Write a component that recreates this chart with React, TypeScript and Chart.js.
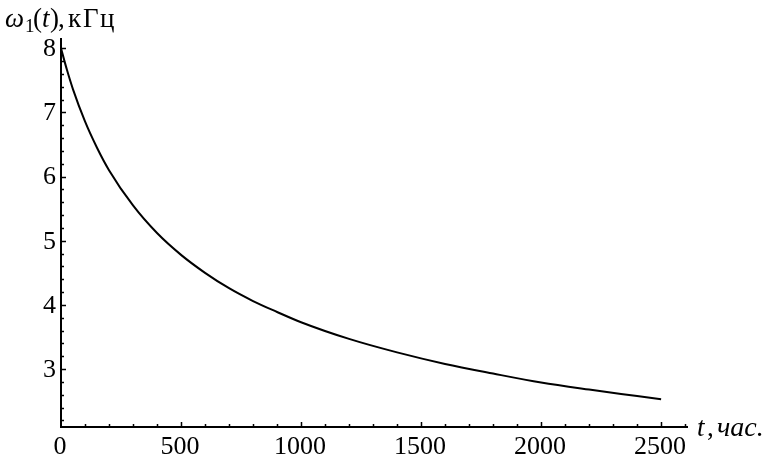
import React, { useEffect, useRef } from "react";
import { Chart, registerables } from "chart.js";

Chart.register(...registerables);

const tValues = [0, 25, 50, 100, 150, 200, 300, 400, 500, 600, 700, 800, 900, 1000, 1200, 1400, 1600, 1800, 2000, 2200, 2400, 2500];
const omegaValues = [8.0, 7.66, 7.36, 6.86, 6.45, 6.1, 5.55, 5.12, 4.78, 4.5, 4.26, 4.06, 3.89, 3.73, 3.47, 3.26, 3.08, 2.93, 2.79, 2.68, 2.58, 2.53];
const xMajorTicks = [0, 500, 1000, 1500, 2000, 2500];
const xMinorStep = 100;
const yMajorTicks = [3, 4, 5, 6, 7, 8];
const yMinorStep = 0.2;
const xRange = [0, 2612];
const yRange = [2.097, 8.16];

const FONT = "'Liberation Serif', 'DejaVu Serif', serif";

const axesPlugin = {
  id: "mmaAxes",
  afterDatasetsDraw(chart: any) {
    const ctx = chart.ctx as CanvasRenderingContext2D;
    const xs = chart.scales.x;
    const ys = chart.scales.y;
    const area = chart.chartArea;
    const x0 = xs.getPixelForValue(0);
    const yb = area.bottom;
    ctx.save();
    ctx.strokeStyle = "#000";
    ctx.fillStyle = "#000";
    ctx.lineWidth = 2;
    ctx.lineCap = "butt";
    ctx.beginPath();
    ctx.moveTo(x0, area.top);
    ctx.lineTo(x0, yb + 1);
    ctx.moveTo(x0 - 1, yb);
    ctx.lineTo(area.right, yb);
    ctx.stroke();

    ctx.lineWidth = 1.5;
    ctx.beginPath();
    for (let v = xMinorStep; v <= xRange[1]; v += xMinorStep) {
      const px = Math.round(xs.getPixelForValue(v)) + 0.5;
      const major = xMajorTicks.includes(v);
      ctx.moveTo(px, yb);
      ctx.lineTo(px, yb - (major ? 5 : 3));
    }
    for (let i = 0; ; i++) {
      const v = Math.round((2 + i * yMinorStep) * 10) / 10;
      if (v > yRange[1]) break;
      if (v < yRange[0]) continue;
      const py = Math.round(ys.getPixelForValue(v)) + 0.5;
      const major = yMajorTicks.includes(v);
      ctx.moveTo(x0, py);
      ctx.lineTo(x0 + (major ? 5 : 3), py);
    }
    ctx.stroke();

    ctx.font = `26px ${FONT}`;
    ctx.textAlign = "center";
    ctx.textBaseline = "alphabetic";
    for (const v of xMajorTicks) {
      ctx.fillText(String(v), xs.getPixelForValue(v) - 1, yb + 27);
    }
    ctx.textAlign = "right";
    ctx.textBaseline = "middle";
    for (const v of yMajorTicks) {
      ctx.fillText(String(v), x0 - 5, ys.getPixelForValue(v) + 1);
    }

    ctx.textAlign = "left";
    ctx.textBaseline = "alphabetic";
    const parts: [string, string, number, number][] = [
      ["ω", `italic 27px ${FONT}`, 0, 5],
      ["1", `19px ${FONT}`, 5, 25],
      ["(", `27px ${FONT}`, 0, 33],
      ["t", `italic 27px ${FONT}`, 0, 42],
      [")", `27px ${FONT}`, 0, 50],
      [",", `27px ${FONT}`, 0, 58],
      ["к", `27px ${FONT}`, 0, 68],
      ["Г", `27px ${FONT}`, 0, 83],
      ["ц", `27px ${FONT}`, 0, 100],
    ];
    for (const [txt, f, dy, x] of parts) {
      ctx.font = f;
      ctx.fillText(txt, x, 27 + dy);
    }
    const xparts: [string, string, number][] = [
      ["t", `italic 27px ${FONT}`, 697],
      [",", `27px ${FONT}`, 707],
      ["час.", `italic 28px ${FONT}`, 717],
    ];
    for (const [txt, f, x] of xparts) {
      ctx.font = f;
      ctx.fillText(txt, x, 436);
    }
    ctx.restore();
  },
};

export default function App() {
  const ref = useRef<HTMLCanvasElement>(null);
  useEffect(() => {
    if (!ref.current) return;
    const chart = new Chart(ref.current, {
      type: "line",
      data: {
        datasets: [
          {
            data: tValues.map((t, i) => ({ x: t, y: omegaValues[i] })),
            borderColor: "#000",
            borderWidth: 2,
            pointRadius: 0,
            cubicInterpolationMode: "monotone",
            fill: false,
          },
        ],
      },
      options: {
        animation: false,
        responsive: false,
        maintainAspectRatio: false,
        devicePixelRatio: 1,
        layout: { padding: { left: 61, right: 79, top: 38, bottom: 34 } },
        plugins: { legend: { display: false }, tooltip: { enabled: false } },
        scales: {
          x: { type: "linear", min: xRange[0], max: xRange[1], display: false },
          y: { type: "linear", min: yRange[0], max: yRange[1], display: false },
        },
      },
      plugins: [axesPlugin],
    });
    return () => chart.destroy();
  }, []);
  return (
    <div style={{ position: "absolute", left: 0, top: 0, width: 767, height: 461, background: "#fff" }}>
      <canvas ref={ref} width={767} height={461} style={{ display: "block" }} />
    </div>
  );
}
